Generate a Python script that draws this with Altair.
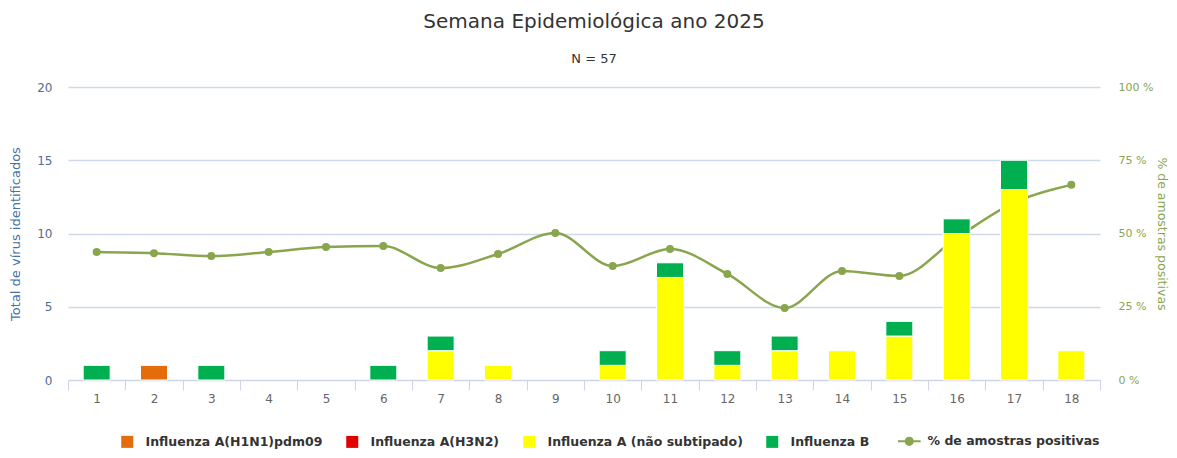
import altair as alt
import pandas as pd

# ---- data ----
weeks = list(range(1, 19))
h1n1 = [0, 1, 0, 0, 0, 0, 0, 0, 0, 0, 0, 0, 0, 0, 0, 0, 0, 0]
h3n2 = [0] * 18
a_nao_sub = [0, 0, 0, 0, 0, 0, 2, 1, 0, 1, 7, 1, 2, 2, 3, 10, 13, 2]
flu_b = [1, 0, 1, 0, 0, 1, 1, 0, 0, 1, 1, 1, 1, 0, 1, 1, 2, 0]
pct_pos = [43.7, 43.3, 42.3, 43.7, 45.4, 45.7, 38.2, 43.0, 50.2, 38.9,
           44.7, 36.2, 24.6, 37.2, 35.5, 48.5, 60.5, 66.6]

series_names = ["Influenza A(H1N1)pdm09", "Influenza A(H3N2)",
                "Influenza A (não subtipado)", "Influenza B"]
line_name = "% de amostras positivas"
colors = ["#E46C0A", "#E00000", "#FFFF00", "#00B050", "#89A54E"]
stack_rank = [2, 3, 0, 1]

rows = []
for name, vals, rk in zip(series_names, [h1n1, h3n2, a_nao_sub, flu_b], stack_rank):
    for w, v in zip(weeks, vals):
        if v > 0:
            rows.append({"semana": w, "serie": name, "valor": v, "ordem": rk})
bars_df = pd.DataFrame(rows)
line_df = pd.DataFrame({"semana": weeks, "pct": pct_pos, "serie": line_name})

FONT = "DejaVu Sans"
OLIVE = "#89A54E"
BLUE = "#4572A7"

line_path = "M-1.9,0L1.9,0M-0.6,0A0.6,0.6,0,1,1,0.6,0A0.6,0.6,0,1,1,-0.6,0Z"
is_line = f"datum.label === '{line_name}'"
legend = alt.Legend(
    orient="none", legendX=53, legendY=348, direction="horizontal", title=None,
    symbolType=alt.ExprRef(expr=f"{is_line} ? '{line_path}' : 'square'"),
    symbolSize=144,
    symbolStrokeWidth=alt.ExprRef(expr=f"{is_line} ? 2 : 0"),
    symbolFillColor=alt.ExprRef(expr="scale('color', datum.value)"),
    symbolStrokeColor=alt.ExprRef(expr="scale('color', datum.value)"),
    symbolOpacity=1,
    labelFont=FONT, labelFontSize=12.5, labelFontWeight="bold", labelColor="#333333",
    labelLimit=400, columnPadding=23, labelOffset=12,
)

color = alt.Color("serie:N",
                  scale=alt.Scale(domain=series_names + [line_name], range=colors),
                  legend=legend)

x = alt.X("semana:O", title=None,
          axis=alt.Axis(labelAngle=0, labelColor="#666666", labelFontSize=12, labelFont=FONT,
                        domainColor="#ccd6eb", tickColor="#ccd6eb", tickSize=10,
                        tickBand="extent", labelPadding=3, grid=False))

bars = alt.Chart(bars_df).mark_bar(size=27, stroke="white", strokeWidth=1).encode(
    x=x,
    y=alt.Y("valor:Q", stack="zero", scale=alt.Scale(domain=[0, 20]),
            axis=alt.Axis(title="Total de vírus identificados", values=[0, 5, 10, 15, 20],
                          grid=True, gridColor="#cfd9e8", gridWidth=1.5, domain=False,
                          ticks=False, labelPadding=16, labelColor="#4d6d9a",
                          labelFontSize=12, labelFont=FONT, titleColor=BLUE,
                          titleFont=FONT, titleFontSize=13, titleFontWeight="normal",
                          titlePadding=14)),
    color=color,
    order=alt.Order("ordem:Q"),
)

y2 = alt.Y("pct:Q", scale=alt.Scale(domain=[0, 100]),
           axis=alt.Axis(orient="right", title="% de amostras positivas",
                         values=[0, 25, 50, 75, 100], labelExpr="datum.value + ' %'",
                         grid=False, domain=False, ticks=False, labelPadding=18,
                         labelColor=OLIVE, labelFontSize=11, labelFont=FONT,
                         titleColor=OLIVE, titleFont=FONT, titleFontSize=12.5,
                         titleFontWeight="normal", titlePadding=2))

line = alt.Chart(line_df).mark_line(interpolate="monotone", strokeWidth=2.5).encode(
    x=x, y=y2, color=color)
points = alt.Chart(line_df).mark_circle(size=64, opacity=1).encode(
    x=x, y=y2, color=color)

chart = alt.layer(alt.layer(line, points), bars).resolve_scale(y="independent").properties(
    width=1032, height=293,
    autosize=alt.AutoSizeParams(type="none"),
    padding={"left": 60, "top": 79, "right": 69, "bottom": 70},
    title=alt.TitleParams("Semana Epidemiológica ano 2025", subtitle="N = 57",
                          anchor="middle", frame="group", dx=10,
                          font=FONT, fontSize=20, fontWeight="normal", color="#333333",
                          subtitleFont=FONT, subtitleFontSize=13, subtitleColor="#333333",
                          subtitlePadding=21, offset=15),
).configure_view(stroke=None)

chart.save("out.html", embed_options={"renderer": "svg", "actions": False})
